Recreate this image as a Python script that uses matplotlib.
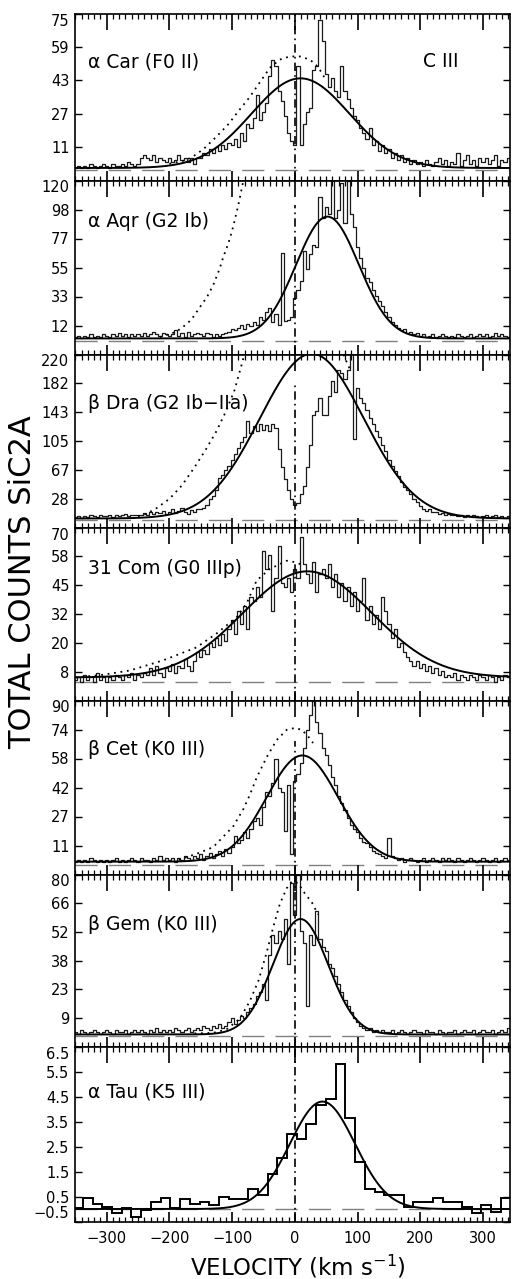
import numpy as np
import matplotlib
matplotlib.use("Agg")
import matplotlib.pyplot as plt
from matplotlib.ticker import MultipleLocator

plt.rcParams['font.family'] = ['DejaVu Sans']

# ---------------- data ----------------
VEL_START, VEL_STEP = -350, 5   # spectra sampled every 5 km/s from -350

car = [1,2,1,2,1,3,2,1,2,3, 2,1,3,2,2,3,2,4,3,2, 3,6,7,6,5,7,4,6,5,4,
       6,4,5,7,5,6,4,6,3,6, 6,8,7,10,8,11,9,12,10,13, 12,15,11,18,14,22,20,25,36,24,
       28,32,45,53,50,38,33,26,18,14, 12,50,12,22,28,30,48,50,72,62,
       46,40,44,38,35,50,38,34,30,26, 24,20,18,15,20,12,14,9,12,8,
       10,6,8,5,7,4,6,3,5,3, 4,2,5,3,2,4,6,3,5,2, 4,3,8,2,5,7,3,5,2,6,
       4,6,3,5,7,2,5,4,6,3]
aqr = [3,4,2,4,3,5,3,4,3,5, 4,3,5,4,6,4,5,3,5,4, 5,4,6,4,5,7,5,4,6,5,
       4,5,8,4,6,3,7,4,5,6, 5,4,6,5,3,5,4,5,6,7, 9,8,10,12,9,13,11,14,12,18,
       16,22,25,14,20,12,66,15,16,18, 32,38,45,67,54,65,72,70,108,92,
       100,95,120,92,98,118,88,120,95,85, 70,62,55,47,44,38,34,30,26,22,
       18,14,12,10,8,9,6,7,5,6, 4,5,3,4,5,3,4,5,4,3, 4,3,5,4,3,4,5,3,4,5,
       4,5,3,4,6,4,5,4,3,5]
dra = [4,5,3,5,4,6,5,4,6,5, 5,6,4,7,5,6,8,5,7,6, 7,6,9,7,10,8,11,9,12,8,
       10,14,9,12,16,11,8,13,10,14, 14,16,20,28,32,40,56,60,66,72,
       80,88,96,104,110,132,115,125,118,128, 120,126,118,128,122,95,70,55,40,28,
       20,22,35,45,70,100,140,145,162,140, 140,165,185,170,200,196,188,200,222,108,
       175,162,155,146,136,128,118,110,100,92, 80,72,65,58,50,44,40,34,28,24,
       18,15,12,14,10,11,8,9,7,8, 6,7,5,6,4,6,5,7,5,4, 5,6,4,5,6,4,5,3,5,4]
com = [4,5,3,6,4,5,3,7,4,5, 3,5,4,6,5,4,6,5,7,4, 6,5,7,6,9,6,10,7,5,9,
       8,11,7,10,9,13,10,8,12,16, 14,17,15,20,18,22,19,24,21,26,
       30,24,34,28,36,26,40,38,44,40, 60,52,58,34,48,62,46,44,48,42,
       52,48,66,54,50,46,55,42,50,52, 48,54,44,50,40,46,38,44,36,42,
       34,38,48,30,36,28,32,26,40,34, 28,22,26,18,20,16,14,12,10,12,
       9,11,8,10,7,9,6,8,5,6, 5,7,4,6,5,4,6,5,4,6, 5,4,6,5,3,5,4,6,5,4]
cet = [2,3,2,3,2,4,3,2,3,2, 3,2,3,4,2,3,2,3,4,3, 2,4,3,3,2,4,3,5,3,4,
       3,4,2,4,3,5,4,3,5,4, 6,3,5,7,4,6,8,5,9,7, 10,16,12,14,18,15,20,24,26,22,
       32,40,38,45,58,42,40,19,44,6, 46,50,56,64,74,82,90,78,72,64,
       60,55,48,44,38,34,30,26,22,20, 18,15,13,12,10,8,7,6,5,4,
       15,5,4,3,4,2,3,4,3,2, 3,4,2,3,4,3,2,4,3,4, 3,2,4,3,2,3,4,3,2,3,
       4,3,2,3,4,2,3,4,3,2]
gem = [2,1,3,2,1,2,3,2,1,2, 3,2,1,3,2,2,3,1,2,3, 2,3,2,1,3,2,4,2,3,2,
       3,2,4,3,2,3,4,2,3,4, 3,5,4,3,5,4,6,4,5,7, 9,6,8,10,9,12,14,16,20,22,
       26,18,40,50,46,52,48,58,36,76, 60,80,52,46,15,50,45,62,48,44,
       42,36,34,30,26,22,18,15,12,9, 7,5,4,3,4,2,3,2,3,2,
       2,3,1,2,3,2,1,2,3,2, 2,1,3,2,2,1,3,2,1,2, 2,3,1,2,3,2,2,3,1,2,
       3,2,2,3,1,2,3,2,4,2]
# alpha Tau: coarse histogram, bins of 15.5 km/s starting at -369 km/s
TAU_EDGE0, TAU_BIN = -369.0, 15.5
tau = [0.05,0.05,0.43,0.2,0.07,-0.15,0.05,-0.3,-0.05,0.3,0.43,0.05,0.4,0.2,0.3,
       0.15,0.5,0.4,0.4,0.8,0.55,1.4,2.05,3.0,2.8,3.4,4.15,4.4,5.8,3.66,1.9,
       0.8,0.67,0.58,0.58,0.07,0.27,0.27,0.43,0.3,0.3,0.1,-0.15,0.15,-0.1,0.45,0.45]

# dotted comparison profiles (visible part), velocity / counts
car_dot_v = [-200, -173, -160, -146, -125, -106, -88, -72, -56, -40, -24, -8, 8, 24, 37, 50]
car_dot_y = [3, 4.8, 7, 10, 16, 22, 29, 35, 42, 49, 53, 54.5, 54.5, 53, 49.5, 43]
aqr_dot_v = [-215, -189, -178, -165, -152, -140, -130, -120, -114, -106, -98, -90, -82, -78]
aqr_dot_y = [3, 7, 10.7, 16, 25, 33, 42, 54, 63, 73, 86, 102, 120, 130]
dra_dot_v = [-250, -237, -220, -200, -180, -160, -141, -125, -109, -96, -85, -78]
dra_dot_y = [5, 8, 16, 28, 46, 70, 95, 118, 146, 173, 206, 228]
dra_dot2_v = [74, 80, 88]
dra_dot2_y = [228, 215, 200]
com_dot_v = [-350, -310, -263, -210, -157, -125, -93, -77, -61, -40, -13, 0, 10]
com_dot_y = [5, 6, 8, 12.4, 18, 24, 31, 37, 47, 52, 55.6, 55, 54]
cet_dot_v = [-185, -151, -130, -114, -98, -82, -72, -61, -45, -29, -13, 0, 11, 21, 29]
cet_dot_y = [3, 7, 10, 15.7, 21.4, 30.8, 38.3, 47.8, 59, 68.4, 74, 75, 74, 70.5, 66.8]
gem_dot_v = [-160, -130, -109, -88, -72, -58, -45, -35, -24, -13, -5, 5, 16, 27, 37]
gem_dot_y = [1.5, 1.8, 3.5, 8.7, 17.3, 27.6, 41.4, 53.4, 65.4, 73.2, 76.6, 75.8, 70.6, 66.3, 60.3]

STAR_LABELS = ['α Car (F0 II)', 'α Aqr (G2 Ib)', 'β Dra (G2 Ib−IIa)',
               '31 Com (G0 IIIp)', 'β Cet (K0 III)', 'β Gem (K0 III)', 'α Tau (K5 III)']
SPECTRA = [car, aqr, dra, com, cet, gem, tau]
DOTTED = [[(car_dot_v, car_dot_y)],
          [(aqr_dot_v, aqr_dot_y)],
          [(dra_dot_v, dra_dot_y), (dra_dot2_v, dra_dot2_y)],
          [(com_dot_v, com_dot_y)],
          [(cet_dot_v, cet_dot_y)],
          [(gem_dot_v, gem_dot_y)],
          []]

YLIMS = [(-5, 75), (-10, 120), (-10, 220), (-5, 70), (-5, 90), (-5, 80), (-0.5, 6.5)]
N_INTERVALS = [5, 6, 6, 6, 6, 6, 7]
YTICK_LABELS = [['11', '27', '43', '59', '75'],
                ['12', '33', '55', '77', '98', '120'],
                ['28', '67', '105', '143', '182', '220'],
                ['8', '20', '32', '45', '58', '70'],
                ['11', '27', '42', '58', '74', '90'],
                ['9', '23', '38', '52', '66', '80'],
                ['−0.5', '0.5', '1.5', '2.5', '3.5', '4.5', '5.5', '6.5']]

# Gaussian fit (solid): amplitude, centre, sigma, baseline
FIT_AMP = [43, 91, 219, 46, 58, 57, 4.3]
FIT_CEN = [9, 52, 27, 20, 12, 9, 44]
FIT_SIG = [78, 50, 83, 103, 57, 44, 52]
FIT_BASE = [1, 2, 2, 5, 2, 1, 0.0]
DASH_LEVEL = [0, 0, 0, 3, 0, 0, 0]

XTICKS = [-300, -200, -100, 0, 100, 200, 300]

# ---------------- layout ----------------
W, H = 512, 1279
fig = plt.figure(figsize=(W / 100, H / 100), dpi=100)
bounds = [13.7, 180.5, 354.5, 527.5, 700.5, 874.5, 1046.6, 1221.5]
label_yfrac = [0.712, 0.763, 0.718, 0.764, 0.716, 0.707, 0.742]
vline_top = [1.0, 0.86, 0.83, 0.80, 0.77, 1.0, 1.0]
left_px, right_px = 75, 510

xs = np.linspace(-360, 360, 1441)

for i in range(7):
    top, bot = bounds[i], bounds[i + 1]
    ax = fig.add_axes([left_px / W, 1 - bot / H, (right_px - left_px) / W, (bot - top) / H])
    ylo, yhi = YLIMS[i]
    ax.set_xlim(-350.5, 343)
    ax.set_ylim(ylo, yhi)

    vals = SPECTRA[i]
    if i < 6:
        vel = VEL_START + VEL_STEP * np.arange(len(vals))
        ax.step(vel, vals, where='mid', color='#1a1a1a', lw=0.9, zorder=2)
    else:
        edges = TAU_EDGE0 + TAU_BIN * np.arange(len(vals) + 1)
        ax.stairs(vals, edges, color='black', lw=1.4, zorder=2)

    ax.axhline(DASH_LEVEL[i], color='#808080', lw=1.0, ls=(0, (16, 8)), zorder=1)

    fit = FIT_BASE[i] + FIT_AMP[i] * np.exp(-0.5 * ((xs - FIT_CEN[i]) / FIT_SIG[i]) ** 2)
    ax.plot(xs, fit, color='black', lw=1.4, zorder=3)
    for dv, dy in DOTTED[i]:
        ax.plot(dv, dy, color='black', lw=1.3, ls=(0, (1, 2.6)), zorder=3)

    ax.axvline(0, ymin=0, ymax=vline_top[i], color='black', lw=1.2,
               ls=(0, (5, 2.5, 1, 2.5)), zorder=4)

    ax.text(0.03, label_yfrac[i], STAR_LABELS[i], transform=ax.transAxes,
            fontsize=13.5, ha='left', va='center')
    if i == 0:
        ax.text(0.841, label_yfrac[i], 'C III', transform=ax.transAxes,
                fontsize=13.5, ha='center', va='center')

    # y ticks
    n = N_INTERVALS[i]
    ticks = np.linspace(ylo, yhi, n + 1)
    if i < 6:
        ticks = ticks[1:]
    ax.set_yticks(ticks)
    ax.set_yticklabels(YTICK_LABELS[i])
    ax.tick_params(axis='y', which='major', direction='in', length=5, width=1.0,
                   left=True, right=True, labelsize=10.5, pad=4)

    # x ticks
    ax.set_xticks(XTICKS)
    ax.xaxis.set_minor_locator(MultipleLocator(10))
    ax.tick_params(axis='x', which='major', direction='in', length=7, width=1.2,
                   top=True, bottom=True, labelsize=10.5, pad=7)
    ax.tick_params(axis='x', which='minor', direction='in', length=3.8, width=0.9,
                   top=True, bottom=True)
    if i < 6:
        ax.tick_params(axis='x', labelbottom=False)

    for s in ax.spines.values():
        s.set_linewidth(1.2)

    for t in ax.xaxis.get_major_ticks():
        t.tick2line.set_markersize(11.5)

    ylabs = ax.yaxis.get_major_ticks()
    ylabs[-1].label1.set_verticalalignment('top')
    if i == 6:
        ylabs[0].label1.set_verticalalignment('bottom')

fig.text(23 / W, 1 - 582 / H, 'TOTAL COUNTS SiC2A', rotation=90,
         ha='center', va='center', fontsize=22)
fig.text(298 / W, 1 - 1267 / H, 'VELOCITY (km s$^{-1}$)',
         ha='center', va='center', fontsize=16.5)

fig.savefig('out.png', dpi=100)
